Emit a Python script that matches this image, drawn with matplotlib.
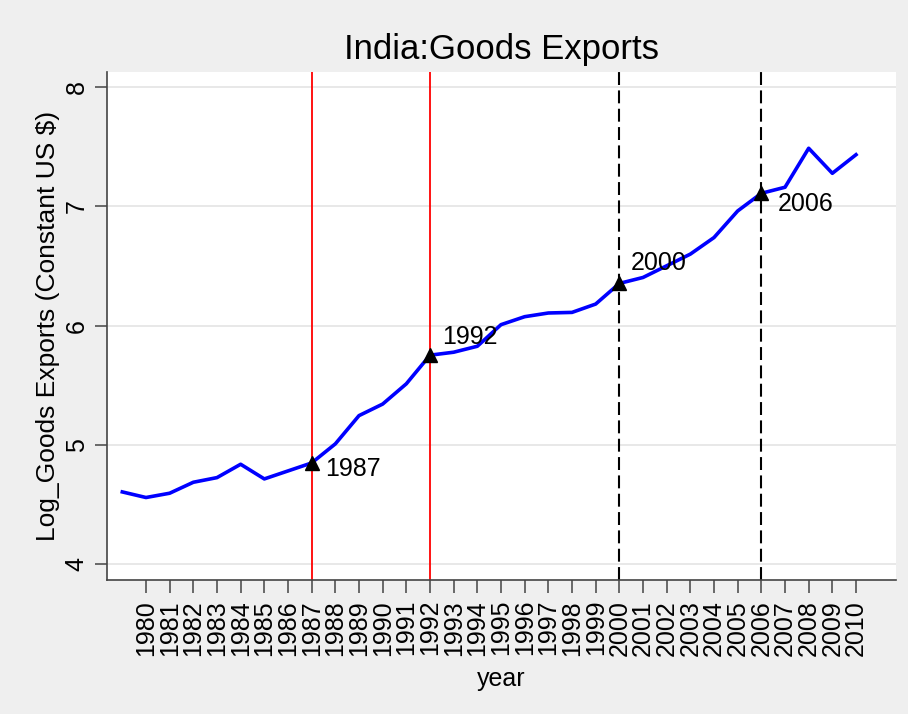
import numpy as np
import matplotlib
matplotlib.use("Agg")
import matplotlib.pyplot as plt

plt.rcParams["font.family"] = ["Liberation Sans", "DejaVu Sans"]

# data
years = list(range(1979, 2011))
log_exports = [4.605, 4.558, 4.594, 4.686, 4.725, 4.837, 4.714, 4.781,
               4.848, 5.008, 5.245, 5.342, 5.512, 5.752, 5.777, 5.827,
               6.008, 6.075, 6.106, 6.111, 6.181, 6.354, 6.404, 6.502,
               6.600, 6.739, 6.962, 7.110, 7.161, 7.488, 7.278, 7.434]
red_years = [1987, 1992]
black_years = [2000, 2006]
marked_years = [1987, 1992, 2000, 2006]
xtick_years = list(range(1980, 2011))
ytick_values = [4, 5, 6, 7, 8]

# label offsets (points) for the marked years
label_offsets = {1987: (10, -4), 1992: (8.5, 13), 2000: (8, 14.5), 2006: (12, -8)}

fig = plt.figure(figsize=(9.08, 7.14), dpi=100, facecolor="#efefef")
ax = fig.add_axes([0.1175, 0.187, 0.8693, 0.7122])
ax.set_facecolor("white")

x = np.array(years)
y = np.array(log_exports)

for yv in ytick_values:
    ax.axhline(yv, color="#e6e6e6", lw=1.3, zorder=0)

for yr in red_years:
    ax.axvline(yr, color="#ff0000", lw=1.3, zorder=1)
for yr in black_years:
    ax.axvline(yr, color="black", lw=1.5, dashes=(6.2, 2.6), zorder=1)

ax.plot(x, y, color="#0000ff", lw=2.6, zorder=3)

mx = np.array(marked_years)
my = np.array([log_exports[years.index(v)] for v in marked_years])
ax.plot(mx, my, linestyle="none", marker="^", markersize=10,
        color="black", zorder=4)
for xv, yv in zip(mx, my):
    ax.annotate(str(xv), (xv, yv), xytext=label_offsets[int(xv)],
                textcoords="offset points", ha="left", va="center",
                fontsize=18, color="black", zorder=5)

ax.set_xlim(1978.34, 2011.69)
ax.set_ylim(3.862, 8.128)
ax.set_xticks(xtick_years)
ax.set_xticklabels([str(v) for v in xtick_years], rotation=90, fontsize=18)
ax.set_yticks(ytick_values)
ax.set_yticklabels([str(v) for v in ytick_values], rotation=90,
                   va="center", fontsize=18)
ax.tick_params(axis="both", direction="out", length=9, width=1.1,
               color="#444444")
ax.tick_params(axis="x", pad=5)
ax.tick_params(axis="y", pad=4)

for s in ("top", "right"):
    ax.spines[s].set_visible(False)
for s in ("left", "bottom"):
    ax.spines[s].set_color("#444444")
    ax.spines[s].set_linewidth(1.2)

ax.set_xlabel("year", fontsize=18, labelpad=8)
ax.set_ylabel("Log_Goods Exports (Constant US $)", fontsize=19, labelpad=3)
ax.set_title("India:Goods Exports", fontsize=25, pad=9)

fig.savefig("out.png", dpi=100, facecolor=fig.get_facecolor())
plt.close(fig)
